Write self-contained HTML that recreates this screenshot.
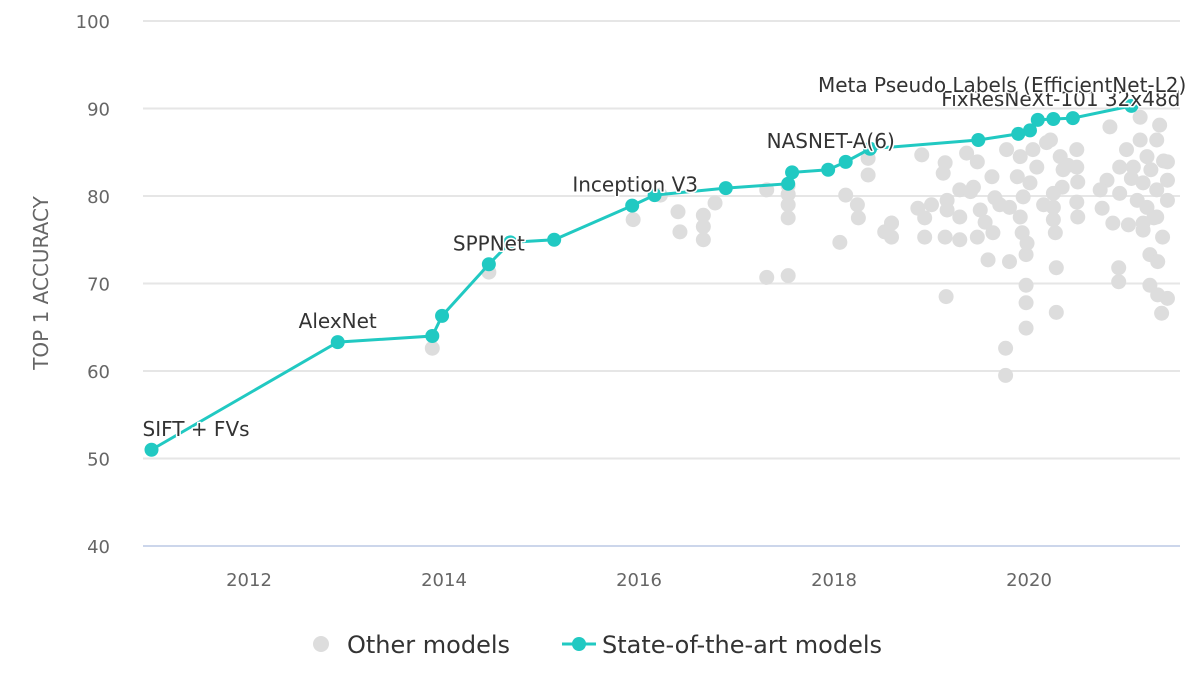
<!DOCTYPE html>
<html><head><meta charset="utf-8"><style>
html,body{margin:0;padding:0;background:#fff;}
svg{display:block;font-family:"DejaVu Sans","Liberation Sans",sans-serif;}
</style></head><body>
<svg id="chart" width="1200" height="700" viewBox="0 0 1200 700" xmlns="http://www.w3.org/2000/svg">
<g id="grid"></g>
<g id="yticks"></g>
<g id="xticks"></g>
<text transform="translate(48,283) rotate(-90)" text-anchor="middle" font-size="20" fill="#666">TOP 1 ACCURACY</text>
<g id="others"></g>
<g id="sota"></g>
<g id="labels"></g>
<g>
<g>
<circle cx="321" cy="644" r="8" fill="#dddddd"/>
<text x="347" y="653" font-size="24" fill="#333">Other models</text></g>
<g>
<line x1="562" y1="644" x2="596" y2="644" stroke="#21c9c2" stroke-width="3"/>
<circle cx="579" cy="644" r="7" fill="#21c9c2"/>
<text x="602" y="653" font-size="24" fill="#333">State-of-the-art models</text></g>
</g>
</svg>
<script>
const yTicks=[40,50,60,70,80,90,100];
const xTicks=[2012,2014,2016,2018,2020];
const sotaYears=[2011.0,2012.91,2013.88,2013.98,2014.46,2014.68,2015.13,2015.93,2016.16,2016.89,2017.53,2017.57,2017.94,2018.12,2018.37,2019.48,2019.89,2020.01,2020.09,2020.25,2020.45,2021.05];
const sotaAcc=[51.0,63.3,64.0,66.3,72.2,74.7,75.0,78.9,80.1,80.9,81.4,82.7,83.0,83.9,85.4,86.4,87.1,87.5,88.7,88.8,88.9,90.3];
const labelNames=["SIFT + FVs","AlexNet","SPPNet","Inception V3","NASNET-A(6)","FixResNeXt-101 32x48d","Meta Pseudo Labels (EfficientNet-L2)"];
const labelIdx=[0,1,4,7,13,18,21];
const otherYears=[2013.88,2014.46,2015.94,2016.22,2016.40,2016.42,2016.66,2016.66,2016.66,2016.78,2017.31,2017.31,2017.53,2017.53,2017.53,2017.53,2017.53,2018.06,2018.12,2018.24,2018.25,2018.35,2018.35,2018.52,2018.59,
2018.90,2019.14,2019.12,2019.36,2019.47,2019.62,2019.16,2019.29,2019.43,2019.65,2019.16,2019.29,2019.50,2018.86,2018.93,2018.59,2018.59,2018.93,2019.14,2019.29,2019.47,2019.63,2019.58,2019.80,2019.97,2019.15,
2019.77,2019.91,2020.04,2019.88,2020.01,2020.08,2019.94,2019.80,2019.91,2019.93,2019.98,2019.97,2019.97,2019.97,2019.76,2019.76,
2020.22,2020.18,2020.32,2020.35,2020.49,2020.49,2020.50,2020.25,2020.34,2020.25,2020.49,2020.50,2020.25,2020.27,2020.28,2020.28,
2020.83,2021.14,2021.34,2021.14,2021.31,2021.00,2020.93,2021.07,2021.42,2021.42,2020.80,2020.73,2020.93,2021.17,2021.31,2021.42,2020.75,2020.86,2021.02,2021.17,2021.31,2021.37,2021.17,2021.24,2021.32,2020.92,2020.92,2021.24,2021.32,2021.42,2021.36,2021.21,2021.21,2021.11,
2019.00,2019.40,2019.70,2021.05,2021.25,2021.38,2020.15,2020.40,2019.55,2021.28];
const otherAcc=[62.6,71.3,77.3,80.1,78.2,75.9,77.8,76.5,75.0,79.2,80.7,70.7,81.2,80.2,79.0,77.5,70.9,74.7,80.1,79.0,77.5,84.3,82.4,75.9,76.9,
84.7,83.8,82.6,84.9,83.9,82.2,79.5,80.7,81.0,79.8,78.4,77.6,78.4,78.6,77.5,76.9,75.3,75.3,75.3,75.0,75.3,75.8,72.7,72.5,73.3,68.5,
85.3,84.5,85.3,82.2,81.5,83.3,79.9,78.7,77.6,75.8,74.6,69.8,67.8,64.9,62.6,59.5,
86.4,86.1,84.5,83.0,85.3,83.3,81.6,80.3,81.0,78.7,79.3,77.6,77.3,75.8,71.8,66.7,
87.9,89.0,88.1,86.4,86.4,85.3,83.3,83.3,83.9,81.8,81.8,80.7,80.3,81.5,80.7,79.5,78.6,76.9,76.7,76.9,77.6,75.3,76.1,73.3,72.5,71.8,70.2,69.8,68.7,68.3,66.6,84.5,78.7,79.5,
79.0,80.5,79.0,82.0,83.0,84.0,79.0,83.5,77.0,77.5];

const NS="http://www.w3.org/2000/svg";
const L=143,R=1180;
function xS(v){return 151.5+(v-2011)*97.5;}
function yS(v){return 546-(v-40)*8.75;}
function mk(tag,attrs,parent){const e=document.createElementNS(NS,tag);for(const k in attrs)e.setAttribute(k,attrs[k]);parent.appendChild(e);return e;}
const grid=document.getElementById('grid'),yt=document.getElementById('yticks'),xt=document.getElementById('xticks');
yTicks.forEach(t=>{
  const ln=mk('line',{x1:L,x2:R,y1:yS(t),y2:yS(t),stroke:t===40?'#ccd6eb':'#e6e6e6','stroke-width':t===40?2:2},grid);
  
  
  const tx=mk('text',{x:110,y:yS(t)+7,'text-anchor':'end','font-size':18,fill:'#666'},yt);
  
  
  tx.textContent=t;
});
xTicks.forEach(t=>{
  const tx=mk('text',{x:xS(t),y:586,'text-anchor':'middle','font-size':18,fill:'#666'},xt);
  
  
  tx.textContent=t;
});
const og=document.getElementById('others');
otherYears.forEach((y,i)=>{
  const c=mk('circle',{cx:xS(y),cy:yS(otherAcc[i]),r:7.5,fill:'#dddddd'},og);
  
  
});
const sg=document.getElementById('sota');
const pts=sotaYears.map((y,i)=>xS(y)+','+yS(sotaAcc[i])).join(' ');
const pl=mk('polyline',{points:pts,fill:'none',stroke:'#21c9c2','stroke-width':3},sg);


sotaYears.forEach((y,i)=>{
  const c=mk('circle',{cx:xS(y),cy:yS(sotaAcc[i]),r:7,fill:'#21c9c2'},sg);
  
  
});
const lg=document.getElementById('labels');
labelIdx.forEach((idx,k)=>{
  const px=xS(sotaYears[idx]),py=yS(sotaAcc[idx]);
  let x=px-10,anchor='start';
  if(k===0)x=px-9;
  if(k===1||k===2||k===3||k===4){x=px;anchor='middle';}
  if(k===3)x=px+3;
  if(k===4)x=px-15;
  if(k===5){x=px+23;anchor='middle';}
  if(k===6){x=818;anchor='start';}
  const t=mk('text',{x:x,y:py-14,'text-anchor':anchor,'font-size':20,fill:'#333',stroke:'#fff','stroke-width':3,'paint-order':'stroke','stroke-linejoin':'round'},lg);
  
  
  t.textContent=labelNames[k];
});
</script>
</body></html>
